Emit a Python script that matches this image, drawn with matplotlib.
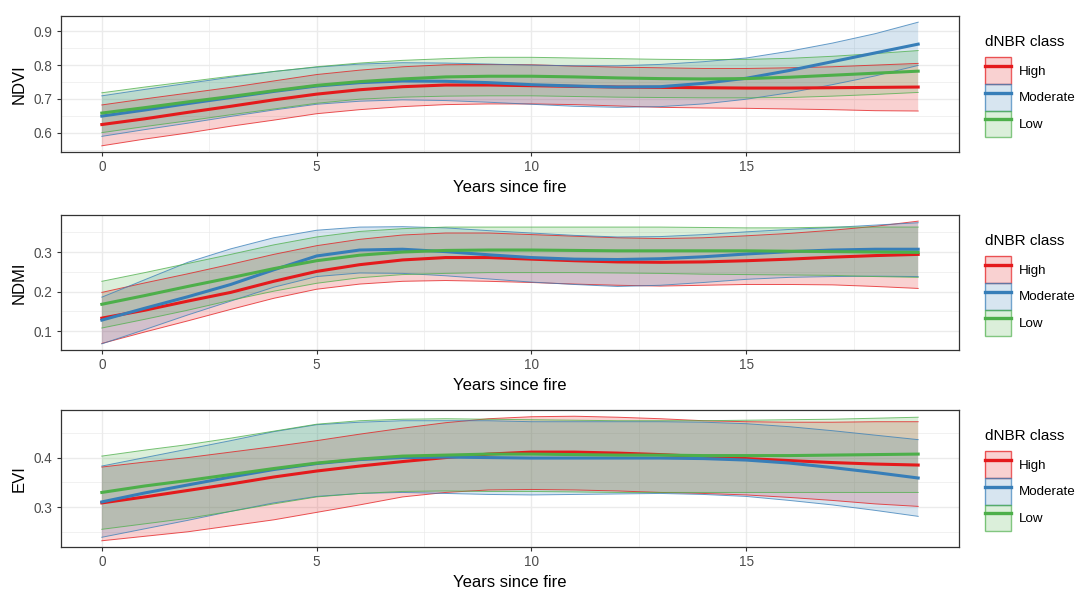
import matplotlib
matplotlib.use("Agg")
import matplotlib.pyplot as plt
from matplotlib.patches import Patch
from matplotlib.lines import Line2D
from matplotlib.ticker import MultipleLocator

plt.rcParams['font.family'] = ['Liberation Sans', 'DejaVu Sans']

years = list(range(20))
classes = ['High', 'Moderate', 'Low']
colors = {'High': '#E41A1C', 'Moderate': '#377EB8', 'Low': '#4DAF4A'}

# NDVI
ndvi_high = [0.624, 0.641, 0.660, 0.678, 0.697, 0.714, 0.727, 0.736, 0.741, 0.741,
             0.739, 0.737, 0.735, 0.734, 0.733, 0.732, 0.732, 0.733, 0.734, 0.735]
ndvi_high_lo = [0.561, 0.581, 0.599, 0.619, 0.637, 0.656, 0.668, 0.677, 0.683, 0.685,
                0.685, 0.683, 0.679, 0.675, 0.673, 0.672, 0.670, 0.668, 0.665, 0.664]
ndvi_high_hi = [0.682, 0.700, 0.717, 0.734, 0.753, 0.772, 0.785, 0.795, 0.801, 0.802,
                0.801, 0.797, 0.794, 0.792, 0.790, 0.790, 0.792, 0.795, 0.800, 0.805]
ndvi_mod = [0.649, 0.667, 0.686, 0.704, 0.722, 0.738, 0.748, 0.753, 0.752, 0.748,
            0.742, 0.738, 0.735, 0.736, 0.746, 0.761, 0.784, 0.810, 0.836, 0.862]
ndvi_mod_lo = [0.589, 0.609, 0.628, 0.648, 0.667, 0.684, 0.693, 0.697, 0.695, 0.690,
               0.684, 0.678, 0.675, 0.677, 0.685, 0.699, 0.718, 0.742, 0.768, 0.799]
ndvi_mod_hi = [0.709, 0.728, 0.746, 0.764, 0.781, 0.794, 0.803, 0.807, 0.806, 0.803,
               0.800, 0.798, 0.798, 0.802, 0.810, 0.821, 0.841, 0.865, 0.893, 0.927]
ndvi_low = [0.658, 0.674, 0.691, 0.707, 0.724, 0.740, 0.751, 0.759, 0.765, 0.767,
            0.767, 0.765, 0.762, 0.760, 0.759, 0.760, 0.764, 0.770, 0.776, 0.782]
ndvi_low_lo = [0.600, 0.618, 0.635, 0.653, 0.670, 0.687, 0.699, 0.705, 0.708, 0.709,
               0.709, 0.707, 0.705, 0.704, 0.703, 0.703, 0.704, 0.708, 0.713, 0.719]
ndvi_low_hi = [0.718, 0.735, 0.751, 0.767, 0.781, 0.795, 0.806, 0.814, 0.819, 0.823,
               0.823, 0.821, 0.819, 0.817, 0.816, 0.817, 0.820, 0.826, 0.834, 0.843]

# NDMI
ndmi_high = [0.133, 0.153, 0.176, 0.198, 0.226, 0.251, 0.268, 0.280, 0.286, 0.286,
             0.282, 0.278, 0.275, 0.274, 0.275, 0.278, 0.282, 0.287, 0.291, 0.294]
ndmi_high_lo = [0.069, 0.098, 0.126, 0.155, 0.183, 0.206, 0.219, 0.226, 0.228, 0.226,
                0.223, 0.219, 0.216, 0.214, 0.216, 0.218, 0.218, 0.217, 0.213, 0.208]
ndmi_high_hi = [0.198, 0.222, 0.245, 0.269, 0.294, 0.316, 0.332, 0.343, 0.348, 0.348,
                0.344, 0.340, 0.336, 0.334, 0.336, 0.341, 0.347, 0.355, 0.365, 0.378]
ndmi_mod = [0.128, 0.158, 0.187, 0.218, 0.255, 0.290, 0.305, 0.307, 0.301, 0.293,
            0.286, 0.282, 0.281, 0.283, 0.288, 0.295, 0.301, 0.305, 0.307, 0.307]
ndmi_mod_lo = [0.068, 0.104, 0.141, 0.176, 0.211, 0.238, 0.247, 0.246, 0.240, 0.232,
               0.224, 0.218, 0.213, 0.216, 0.223, 0.231, 0.236, 0.238, 0.239, 0.238]
ndmi_mod_hi = [0.186, 0.230, 0.274, 0.308, 0.336, 0.355, 0.363, 0.364, 0.361, 0.354,
               0.348, 0.342, 0.338, 0.339, 0.344, 0.351, 0.357, 0.362, 0.368, 0.374]
ndmi_low = [0.168, 0.190, 0.213, 0.235, 0.258, 0.278, 0.292, 0.300, 0.304, 0.305,
            0.305, 0.304, 0.303, 0.303, 0.303, 0.303, 0.302, 0.301, 0.300, 0.299]
ndmi_low_lo = [0.108, 0.130, 0.153, 0.178, 0.201, 0.221, 0.235, 0.243, 0.246, 0.248,
               0.248, 0.248, 0.247, 0.246, 0.244, 0.243, 0.242, 0.241, 0.238, 0.236]
ndmi_low_hi = [0.226, 0.248, 0.271, 0.294, 0.318, 0.338, 0.352, 0.359, 0.363, 0.363,
               0.363, 0.363, 0.363, 0.363, 0.362, 0.361, 0.361, 0.363, 0.363, 0.363]

# EVI
evi_high = [0.309, 0.321, 0.334, 0.347, 0.361, 0.373, 0.383, 0.392, 0.400, 0.407,
            0.411, 0.411, 0.409, 0.406, 0.402, 0.398, 0.394, 0.390, 0.387, 0.385]
evi_high_lo = [0.233, 0.242, 0.251, 0.263, 0.275, 0.290, 0.305, 0.321, 0.330, 0.335,
               0.336, 0.335, 0.333, 0.330, 0.328, 0.325, 0.320, 0.314, 0.307, 0.302]
evi_high_hi = [0.381, 0.391, 0.400, 0.411, 0.422, 0.434, 0.447, 0.459, 0.470, 0.478,
               0.482, 0.483, 0.481, 0.478, 0.474, 0.472, 0.471, 0.471, 0.472, 0.472]
evi_mod = [0.311, 0.329, 0.345, 0.361, 0.376, 0.388, 0.396, 0.400, 0.401, 0.400,
           0.399, 0.399, 0.399, 0.399, 0.398, 0.395, 0.389, 0.380, 0.370, 0.359]
evi_mod_lo = [0.240, 0.257, 0.274, 0.292, 0.309, 0.322, 0.328, 0.330, 0.328, 0.326,
              0.325, 0.326, 0.327, 0.328, 0.326, 0.322, 0.314, 0.305, 0.294, 0.282]
evi_mod_hi = [0.383, 0.400, 0.417, 0.434, 0.452, 0.466, 0.471, 0.474, 0.474, 0.474,
              0.472, 0.472, 0.472, 0.472, 0.471, 0.468, 0.462, 0.454, 0.445, 0.436]
evi_low = [0.330, 0.343, 0.354, 0.366, 0.378, 0.389, 0.397, 0.403, 0.405, 0.407,
           0.407, 0.406, 0.405, 0.405, 0.404, 0.404, 0.404, 0.405, 0.406, 0.407]
evi_low_lo = [0.256, 0.267, 0.278, 0.292, 0.307, 0.321, 0.328, 0.332, 0.333, 0.332,
              0.332, 0.331, 0.330, 0.330, 0.330, 0.330, 0.330, 0.330, 0.330, 0.330]
evi_low_hi = [0.403, 0.415, 0.426, 0.439, 0.453, 0.467, 0.474, 0.477, 0.478, 0.477,
              0.476, 0.475, 0.474, 0.474, 0.474, 0.475, 0.476, 0.477, 0.479, 0.481]

panels = [
    ('NDVI', {'High': (ndvi_high, ndvi_high_lo, ndvi_high_hi),
              'Moderate': (ndvi_mod, ndvi_mod_lo, ndvi_mod_hi),
              'Low': (ndvi_low, ndvi_low_lo, ndvi_low_hi)}),
    ('NDMI', {'High': (ndmi_high, ndmi_high_lo, ndmi_high_hi),
              'Moderate': (ndmi_mod, ndmi_mod_lo, ndmi_mod_hi),
              'Low': (ndmi_low, ndmi_low_lo, ndmi_low_hi)}),
    ('EVI', {'High': (evi_high, evi_high_lo, evi_high_hi),
             'Moderate': (evi_mod, evi_mod_lo, evi_mod_hi),
             'Low': (evi_low, evi_low_lo, evi_low_hi)}),
]

W, H = 1078, 593
fig = plt.figure(figsize=(W / 100, H / 100), dpi=100)
# top / bottom pixel rows of each panel
rows = [(16, 152), (215, 350), (410, 547)]
left, right = 61, 959

for (name, series), (top, bot) in zip(panels, rows):
    ax = fig.add_axes([left / W, (H - bot) / H, (right - left) / W, (bot - top) / H])
    for c in classes:
        mean, lo, hi = series[c]
        ax.fill_between(years, lo, hi, facecolor=colors[c], alpha=0.2, linewidth=0)
        ax.plot(years, lo, color=colors[c], linewidth=0.7, alpha=0.75)
        ax.plot(years, hi, color=colors[c], linewidth=0.7, alpha=0.75)
    for c in classes:
        ax.plot(years, series[c][0], color=colors[c], linewidth=2.2)

    ax.set_xlim(-0.95, 19.95)
    ax.margins(y=0.05)
    ax.xaxis.set_major_locator(MultipleLocator(5))
    ax.xaxis.set_minor_locator(MultipleLocator(2.5))
    ax.yaxis.set_major_locator(MultipleLocator(0.1))
    ax.yaxis.set_minor_locator(MultipleLocator(0.05))
    ax.grid(which='major', color='#EBEBEB', linewidth=1.0)
    ax.grid(which='minor', color='#EBEBEB', linewidth=0.5)
    ax.set_axisbelow(True)
    for s in ax.spines.values():
        s.set_color('#333333')
        s.set_linewidth(0.9)
    ax.tick_params(which='major', length=3, width=0.8, color='#333333',
                   labelsize=9.8, labelcolor='#4D4D4D', pad=3)
    ax.tick_params(which='minor', length=0)
    ax.yaxis.set_major_formatter(plt.FuncFormatter(lambda v, p: f'{v:.1f}'))
    ax.set_xlabel('Years since fire', fontsize=12, color='black', labelpad=4)
    ax.set_ylabel(name, fontsize=12, color='black', labelpad=5)

    handles = [(Patch(facecolor=colors[c], alpha=0.2, edgecolor='none'),
                Patch(facecolor='none', edgecolor=colors[c], linewidth=1.0, alpha=0.7),
                Line2D([], [], color=colors[c], linewidth=2.4))
               for c in classes]
    leg = ax.legend(handles, classes, title='dNBR class', loc='upper left',
                    bbox_to_anchor=((985 - left) / (right - left), 1 - 19 / (bot - top)),
                    frameon=False, fontsize=9.6, title_fontsize=11,
                    handlelength=1.95, handleheight=2.7, labelspacing=0.0,
                    handletextpad=0.6, borderaxespad=0, borderpad=0,
                    alignment='left')
    # gap between the title and the keys
    leg._legend_box.sep = 6

fig.savefig('out.png', dpi=100)
